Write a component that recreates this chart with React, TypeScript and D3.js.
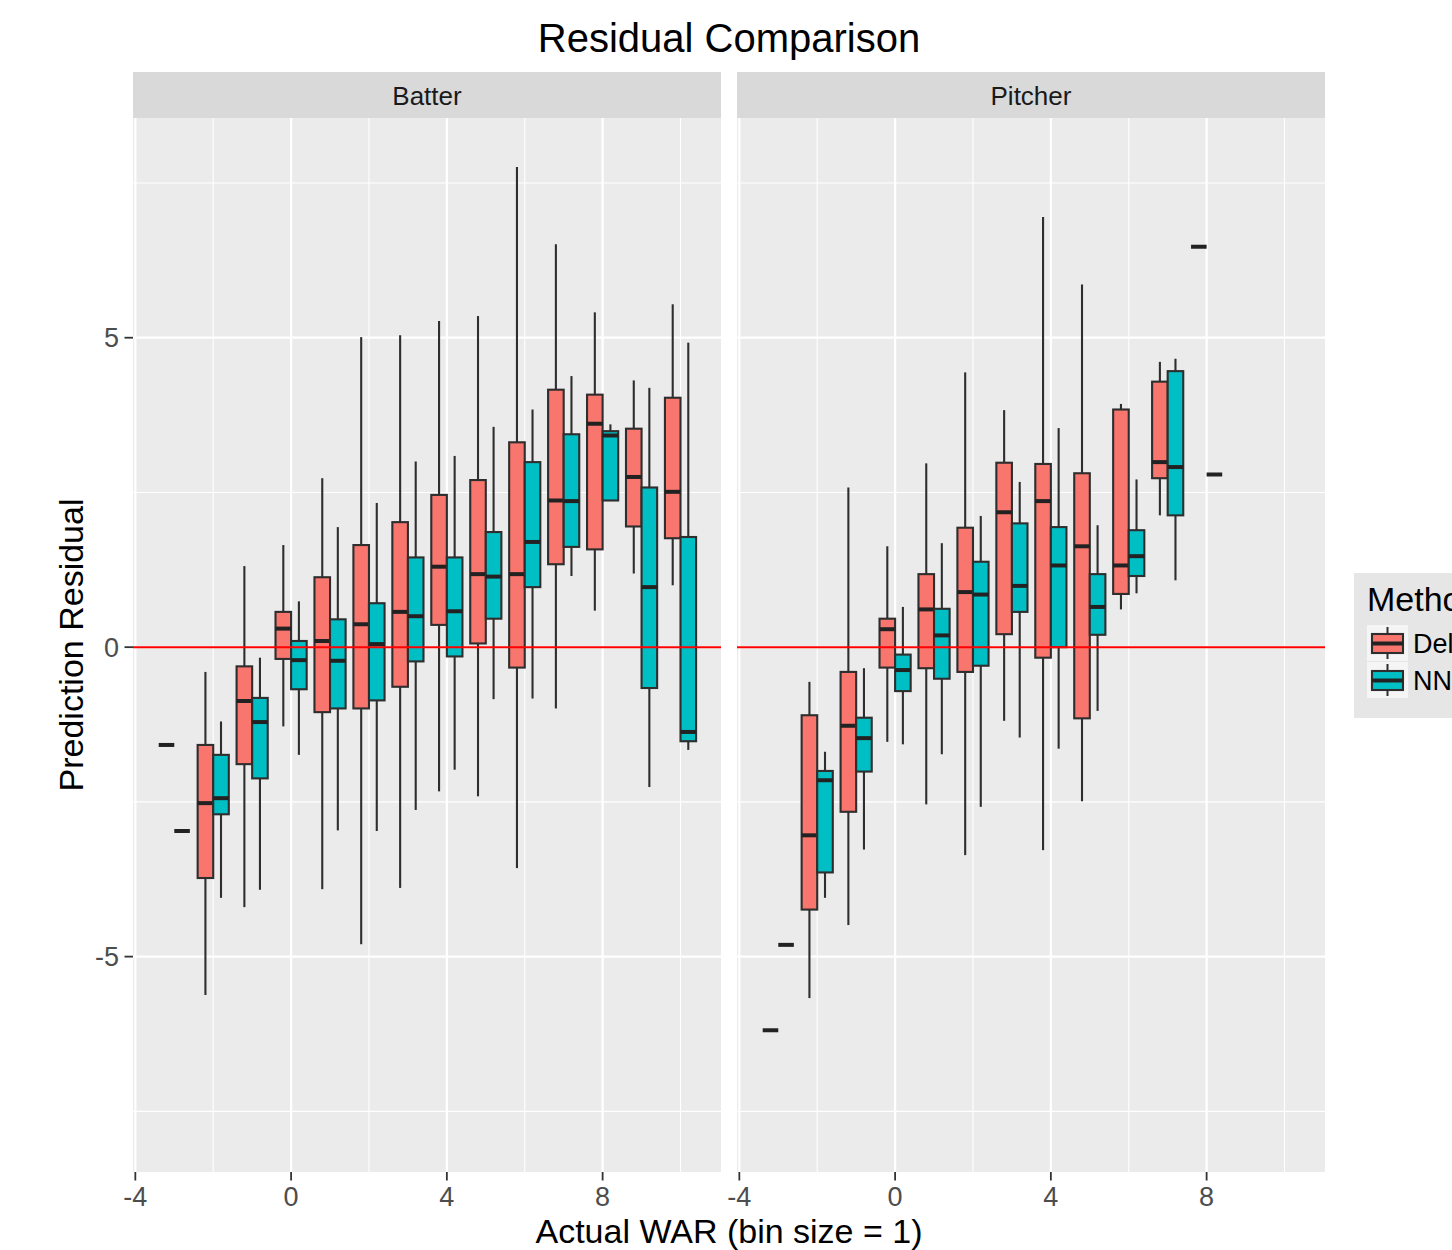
import React from "react";
import * as d3 from "d3";

// bins (Actual WAR, bin size = 1)
const batterBins = [-3, -2, -1, 0, 1, 2, 3, 4, 5, 6, 7, 8, 9, 10];
const pitcherBins = [-3, -2, -1, 0, 1, 2, 3, 4, 5, 6, 7, 8];

// [ymin, lower, middle, upper, ymax]
const batterDelta = [
  [-1.58, -1.58, -1.58, -1.58, -1.58],
  [-5.62, -3.73, -2.52, -1.58, -0.4],
  [-4.2, -1.89, -0.87, -0.31, 1.31],
  [-1.28, -0.19, 0.3, 0.57, 1.65],
  [-3.91, -1.05, 0.1, 1.13, 2.73],
  [-4.8, -0.99, 0.37, 1.65, 5.01],
  [-3.89, -0.64, 0.57, 2.02, 5.04],
  [-2.33, 0.36, 1.3, 2.46, 5.27],
  [-2.41, 0.06, 1.18, 2.7, 5.35],
  [-3.57, -0.33, 1.18, 3.31, 7.76],
  [-0.99, 1.34, 2.37, 4.16, 6.51],
  [0.59, 1.58, 3.61, 4.08, 5.41],
  [1.19, 1.95, 2.75, 3.53, 4.31],
  [1.0, 1.76, 2.51, 4.03, 5.54],
];
const batterNN = [
  [-2.97, -2.97, -2.97, -2.97, -2.97],
  [-4.05, -2.7, -2.44, -1.74, -1.2],
  [-3.92, -2.12, -1.21, -0.82, -0.17],
  [-1.74, -0.68, -0.21, 0.1, 0.74],
  [-2.96, -0.99, -0.22, 0.45, 1.94],
  [-2.97, -0.86, 0.05, 0.71, 2.33],
  [-2.63, -0.23, 0.5, 1.45, 3.0],
  [-1.98, -0.15, 0.58, 1.45, 3.09],
  [-0.84, 0.46, 1.14, 1.86, 3.56],
  [-0.83, 0.97, 1.7, 2.99, 3.84],
  [1.15, 1.62, 2.36, 3.44, 4.38],
  [2.37, 2.37, 3.42, 3.49, 3.6],
  [-2.26, -0.66, 0.97, 2.58, 4.19],
  [-1.66, -1.52, -1.37, 1.78, 4.92],
];
const pitcherDelta = [
  [-6.19, -6.19, -6.19, -6.19, -6.19],
  [-5.67, -4.24, -3.04, -1.1, -0.56],
  [-4.49, -2.66, -1.27, -0.4, 2.58],
  [-1.53, -0.33, 0.29, 0.46, 1.63],
  [-2.54, -0.34, 0.61, 1.18, 2.97],
  [-3.36, -0.4, 0.89, 1.93, 4.44],
  [-1.19, 0.21, 2.18, 2.98, 3.83],
  [-3.28, -0.17, 2.36, 2.96, 6.95],
  [-2.49, -1.15, 1.63, 2.81, 5.86],
  [0.61, 0.86, 1.32, 3.84, 3.93],
  [2.13, 2.73, 2.99, 4.29, 4.61],
  [6.47, 6.47, 6.47, 6.47, 6.47],
];
const pitcherNN = [
  [-4.81, -4.81, -4.81, -4.81, -4.81],
  [-4.05, -3.64, -2.15, -2.0, -1.69],
  [-3.27, -2.01, -1.47, -1.14, -0.34],
  [-1.57, -0.71, -0.37, -0.12, 0.65],
  [-1.73, -0.51, 0.19, 0.62, 1.68],
  [-2.58, -0.3, 0.85, 1.38, 2.12],
  [-1.46, 0.57, 0.99, 2.0, 2.67],
  [-1.64, 0.0, 1.32, 1.94, 3.54],
  [-1.03, 0.2, 0.65, 1.18, 1.97],
  [0.87, 1.15, 1.47, 1.89, 2.71],
  [1.08, 2.13, 2.91, 4.46, 4.66],
  [2.79, 2.79, 2.79, 2.79, 2.79],
];

const xTicks = [-4, 0, 4, 8];
const xMinor = [-2, 2, 6, 10];
const yTicks = [-5, 0, 5];
const yMinor = [-7.5, -2.5, 2.5, 7.5];
const methods = ["Delta", "NN"];
const colors = ["#F8766D", "#00BFC4"];

const W = 1452;
const H = 1250;
const panelW = 588;
const panelTop = 118;
const panelBottom = 1172;
const stripTop = 72;
const font = "'Liberation Sans', Arial, Helvetica, sans-serif";
const lineCol = "#2E2E2E";

const x = d3.scaleLinear().domain([-4.06, 11.04]).range([0, panelW]);
const y = d3.scaleLinear().domain([-8.48, 8.55]).range([panelBottom, panelTop]);
const boxW = x(0.4) - x(0);

function Box({ cx, s, fill }) {
  const [lo, q1, med, q3, hi] = s;
  return (
    <g>
      <line x1={cx} x2={cx} y1={y(q3)} y2={y(hi)} stroke={lineCol} strokeWidth={2.1} />
      <line x1={cx} x2={cx} y1={y(q1)} y2={y(lo)} stroke={lineCol} strokeWidth={2.1} />
      {q3 > q1 && (
        <rect
          x={cx - boxW / 2}
          y={y(q3)}
          width={boxW}
          height={y(q1) - y(q3)}
          fill={fill}
          stroke={lineCol}
          strokeWidth={2.1}
        />
      )}
      <line
        x1={cx - boxW / 2}
        x2={cx + boxW / 2}
        y1={y(med)}
        y2={y(med)}
        stroke="#222"
        strokeWidth={4}
      />
    </g>
  );
}

function Panel({ left, label, bins, delta, nn }) {
  return (
    <g transform={`translate(${left},0)`}>
      <rect x={0} y={panelTop} width={panelW} height={panelBottom - panelTop} fill="#EBEBEB" />
      {yMinor.map((v) => (
        <line key={"ym" + v} x1={0} x2={panelW} y1={y(v)} y2={y(v)} stroke="#fff" strokeWidth={1.1} />
      ))}
      {xMinor.map((v) => (
        <line key={"xm" + v} x1={x(v)} x2={x(v)} y1={panelTop} y2={panelBottom} stroke="#fff" strokeWidth={1.1} />
      ))}
      {yTicks.map((v) => (
        <line key={"y" + v} x1={0} x2={panelW} y1={y(v)} y2={y(v)} stroke="#fff" strokeWidth={2.2} />
      ))}
      {xTicks.map((v) => (
        <line key={"x" + v} x1={x(v)} x2={x(v)} y1={panelTop} y2={panelBottom} stroke="#fff" strokeWidth={2.2} />
      ))}
      {bins.map((b, i) => (
        <g key={b}>
          <Box cx={x(b - 0.2)} s={delta[i]} fill={colors[0]} />
          <Box cx={x(b + 0.2)} s={nn[i]} fill={colors[1]} />
        </g>
      ))}
      <line x1={0} x2={panelW} y1={y(0)} y2={y(0)} stroke="#FF0000" strokeWidth={2} />
      {/* strip */}
      <rect x={0} y={stripTop} width={panelW} height={panelTop - stripTop} fill="#D9D9D9" />
      <text
        x={panelW / 2}
        y={104.5}
        textAnchor="middle"
        fontSize={26}
        fill="#1A1A1A"
        fontFamily={font}
      >
        {label}
      </text>
      {/* x axis */}
      {xTicks.map((v) => (
        <g key={"xt" + v}>
          <line x1={x(v)} x2={x(v)} y1={panelBottom} y2={panelBottom + 8.5} stroke="#333" strokeWidth={1.8} />
          <text
            x={x(v)}
            y={1206}
            textAnchor="middle"
            fontSize={27}
            fill="#4D4D4D"
            fontFamily={font}
          >
            {v}
          </text>
        </g>
      ))}
    </g>
  );
}

export default function App() {
  const left1 = 133;
  const left2 = 737;
  return (
    <div style={{ position: "absolute", left: 0, top: 0 }}>
      <svg width={W} height={H} style={{ display: "block", background: "#fff" }}>
        <text x={729} y={52} textAnchor="middle" fontSize={40} fill="#000" fontFamily={font}>
          Residual Comparison
        </text>
        <Panel left={left1} label="Batter" bins={batterBins} delta={batterDelta} nn={batterNN} />
        <Panel left={left2} label="Pitcher" bins={pitcherBins} delta={pitcherDelta} nn={pitcherNN} />
        {/* y axis on first panel */}
        {yTicks.map((v) => (
          <g key={"yt" + v}>
            <line x1={left1 - 8.5} x2={left1} y1={y(v)} y2={y(v)} stroke="#333" strokeWidth={1.8} />
            <text
              x={left1 - 14}
              y={y(v)}
              dy="0.36em"
              textAnchor="end"
              fontSize={27}
              fill="#4D4D4D"
              fontFamily={font}
            >
              {v}
            </text>
          </g>
        ))}
        <text
          transform={`translate(83,${(panelTop + panelBottom) / 2}) rotate(-90)`}
          textAnchor="middle"
          fontSize={34}
          fill="#000"
          fontFamily={font}
        >
          Prediction Residual
        </text>
        <text x={729} y={1243} textAnchor="middle" fontSize={34} fill="#000" fontFamily={font}>
          Actual WAR (bin size = 1)
        </text>
        {/* legend, runs off the right edge as in the original */}
        <g>
          <rect x={1354} y={573} width={120} height={145} fill="#E6E6E6" />
          <text x={1367} y={611} fontSize={34} fill="#000" fontFamily={font}>
            Method
          </text>
          {methods.map((m, i) => {
            const ky = 625 + i * 37;
            const kx = 1367;
            return (
              <g key={m}>
                <rect x={kx} y={ky} width={41} height={36} fill="#F5F5F5" />
                <line x1={kx + 20.5} x2={kx + 20.5} y1={ky + 2} y2={ky + 34} stroke={lineCol} strokeWidth={2} />
                <rect x={kx + 5} y={ky + 9} width={31} height={19} fill={colors[i]} stroke={lineCol} strokeWidth={2.1} />
                <line x1={kx + 5} x2={kx + 36} y1={ky + 18.5} y2={ky + 18.5} stroke="#222" strokeWidth={4} />
                <text x={1413} y={ky + 27.5} fontSize={27} fill="#000" fontFamily={font}>
                  {m}
                </text>
              </g>
            );
          })}
        </g>
      </svg>
    </div>
  );
}
